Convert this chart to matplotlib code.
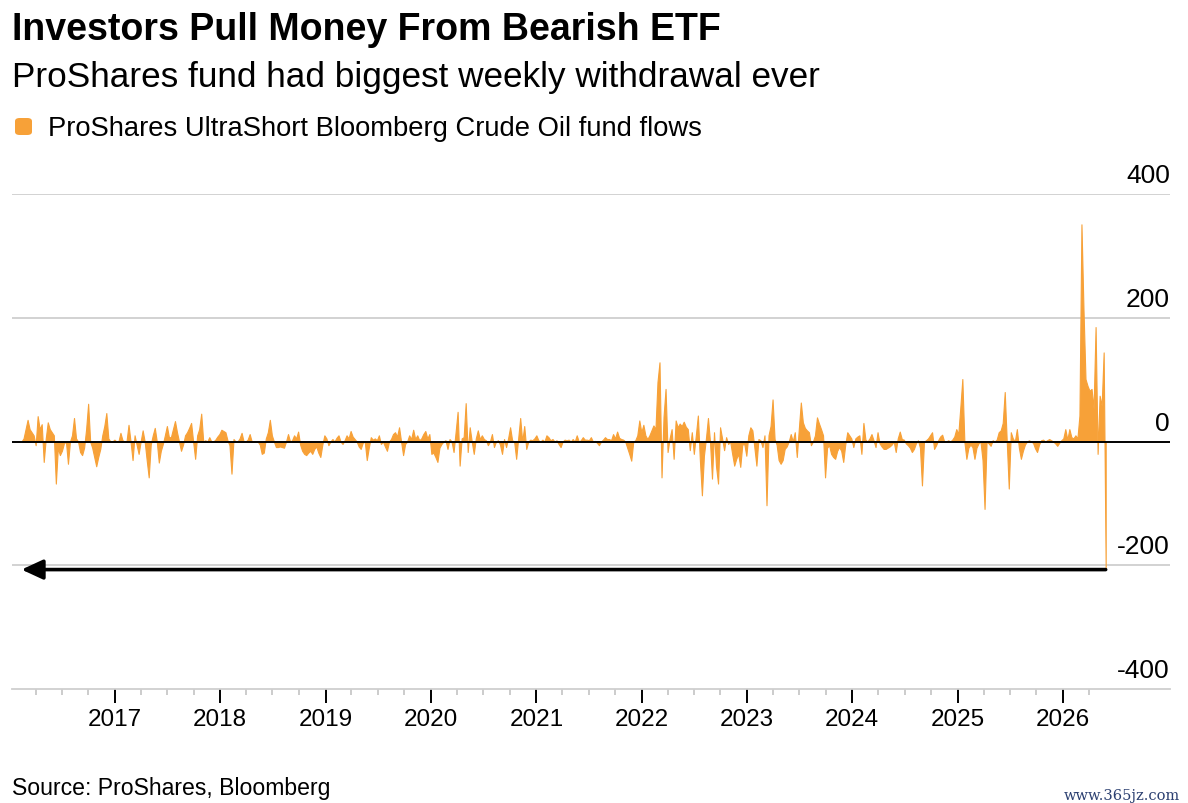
import matplotlib
matplotlib.use("Agg")
import matplotlib.pyplot as plt
import matplotlib.dates as mdates
from matplotlib.patches import FancyBboxPatch
import pandas as pd
import numpy as np

# ---------------- data (weekly fund flows, $ millions) ----------------
start_date = "2016-02-12"
flows_2016 = [0, 5, 20, 35, 20, 15, 10, -6, 41, 20, 28, -33, 5, 31, 20, 15, 10, -68, -10, -22,
              -15, -3, 0, -36, 0, 10, 38, 5, 0, -17, -22, -10, 20, 61, 0, -10, -25, -40, -25, -12,
              10, 25, 46, 5, 0, 0, 3]
flows_2017 = [0, 0, 14, 2, 0, 0, 27, 0, -30, 10, -5, -20, 0, 18, 0, -30, -58, -5, 10, 22,
              0, -34, -15, -4, 10, 25, 7, 7, 20, 33, 15, 0, -15, -5, 10, 15, 22, 30, 0, -28,
              10, 20, 45, 0, 2, 0, 7, 0, 0, 3, 8, 12]
flows_2018 = [19, 17, 15, 2, -6, -52, 4, 0, 0, 5, 14, 0, 0, 3, 12, 0, 0, 0, 0, -5,
              -20, -18, 5, 15, 35, 10, 0, -9, -9, -8, -9, -10, 0, 12, 0, 2, 10, 5, 16, -5,
              -15, -20, -22, -18, -15, -20, -12, -8, -18, -25, -5, 10]
flows_2019 = [5, -6, 0, 4, 0, 6, 10, 0, -4, 2, 10, 5, 17, 8, 4, 0, -8, -12, -2, 0,
              -30, -10, 7, 3, 5, 2, 10, -4, 0, -8, -15, 0, 4, 12, 15, 8, 23, 0, -22, -4,
              0, 10, 4, 19, 4, 10, 2, 5, 12, 17, 5, 12]
flows_2020 = [-20, -18, -25, -33, -10, -4, 0, 2, -12, 4, 0, -17, 15, 48, -39, 5, 7, 62, -17, 23,
              0, -20, 5, 18, 4, 10, 4, 2, -6, 0, 12, -9, 0, 2, -5, -20, 4, -9, 5, 23,
              2, 0, -28, 5, 38, 0, 25, -12, 0, 3, 2, 5]
flows_2021 = [10, 2, 0, 3, 0, 10, 7, 2, 4, 0, 2, -4, -9, 0, 3, 2, 3, 0, 4, 0,
              10, 0, 2, 7, 3, 3, 2, 7, 0, 1, -2, -6, 0, 3, 7, 4, 4, 2, 12, 5,
              16, 6, 4, 3, 0, -10, -20, -31, 0, 2, 10, 34, 15]
flows_2022 = [27, 10, 4, 10, 18, 26, 20, 96, 128, -58, 40, 85, -17, 5, 20, -28, 34, 23, 29, 25,
              32, 24, 20, -14, 15, -20, 10, 42, -30, -87, -23, 5, 38, 0, -60, 15, -40, -68, 23, 5,
              -14, 7, -4, 0, -20, -39, -28, -20, -41, -5, -4, -23]
flows_2023 = [10, 23, 18, -10, -39, 4, 2, -9, 10, -103, 10, 25, 68, 4, -5, -30, -36, -30, -12, -8,
              0, 12, 0, 15, -25, 20, 63, 31, 22, 18, 15, -6, 0, 10, 39, 29, 20, 10, -58, -10,
              -6, -20, -25, -28, -15, -9, -15, -33, -5, 15, 10, 5]
flows_2024 = [-9, 5, 8, 10, -20, 30, 3, 0, 5, 12, 2, -9, 15, -3, -8, -12, -12, -10, -8, -5,
              0, -17, 5, 16, 4, 3, -3, -6, -10, -17, -12, -3, 2, -10, -71, 0, 2, 5, 10, 15,
              -12, -6, 2, 8, 11, 0, 0, 2, 0, 3, 8, 20]
flows_2025 = [12, 55, 101, 0, -28, -10, -5, -9, -28, -10, -3, 0, -30, -109, 0, -3, -7, 2, 0, 3,
              15, 18, 30, 80, 0, -76, 15, 5, 0, 20, -10, -28, -15, -5, 0, 2, 0, -2, -11, -17,
              -5, 2, 3, 0, 2, 4, 2, 0, -3, -7, -2, 2]
flows_2026 = [5, 20, 3, 20, 7, 5, 10, 5, 42, 351, 214, 101, 90, 82, 85, 53, 185, -20, 74, 58,
              144, -205]

year_ticks = ["2017", "2018", "2019", "2020", "2021", "2022", "2023", "2024", "2025", "2026"]
y_ticks = [400, 200, 0, -200, -400]
y_tick_labels = ["400", "200", "0", "-200", "-400"]

title = "Investors Pull Money From Bearish ETF"
subtitle = "ProShares fund had biggest weekly withdrawal ever"
legend_label = "ProShares UltraShort Bloomberg Crude Oil fund flows"
source = "Source: ProShares, Bloomberg"
watermark = "www.365jz.com"

values = np.array(flows_2016 + flows_2017 + flows_2018 + flows_2019 + flows_2020 +
                  flows_2021 + flows_2022 + flows_2023 + flows_2024 + flows_2025 + flows_2026,
                  dtype=float)
dates = pd.date_range(start_date, periods=len(values), freq="7D")

# ---------------- figure ----------------
W, H = 1188, 804
ORANGE = "#F7A138"
FONT = "Liberation Sans"
plt.rcParams["font.family"] = [FONT, "DejaVu Sans"]

fig = plt.figure(figsize=(W / 100, H / 100), dpi=100)
ax = fig.add_axes([12 / W, (H - 690) / H, 1158 / W, 495 / H])

ax.fill_between(dates, 0, values, color=ORANGE, linewidth=0.8, edgecolor=ORANGE, zorder=2)

ax.set_ylim(-400, 400)
ax.set_xlim(pd.Timestamp("2016-01-10"), pd.Timestamp("2027-01-07"))

for v in [400, 200, -200]:
    ax.axhline(v, color="#cfcfcf", lw=1.3, zorder=1)
ax.axhline(0, color="black", lw=1.4, zorder=3)

for sp in ["top", "left", "right"]:
    ax.spines[sp].set_visible(False)
ax.spines["bottom"].set_color("#cfcfcf")
ax.spines["bottom"].set_linewidth(1.3)

ax.set_yticks([])

major = [pd.Timestamp(f"{y}-01-01") for y in year_ticks]
ax.set_xticks(major)
ax.set_xticklabels(year_ticks, fontsize=17.5)
minor = [pd.Timestamp(f"{y}-{m:02d}-01") for y in range(2016, 2027) for m in (4, 7, 10)]
minor = [d for d in minor if d <= pd.Timestamp("2026-04-01")]
ax.set_xticks(minor, minor=True)
ax.tick_params(axis="x", which="major", length=10, width=1.4, color="black", pad=4,
               labelcolor="black")
ax.tick_params(axis="x", which="minor", length=4.5, width=1.3, color="#c8c8c8")

for v, lab in zip(y_ticks, y_tick_labels):
    ax.annotate(lab, xy=(1.0, v), xycoords=("axes fraction", "data"),
                xytext=(0, 8.6), textcoords="offset points",
                ha="right", va="baseline", fontsize=19, color="black")

# arrow marking the record withdrawal across the whole history
ax.annotate("", xy=(dates[0], -207), xytext=(dates[-1], -207),
            arrowprops=dict(arrowstyle="-|>,head_length=1.3,head_width=0.6",
                            lw=2.6, color="black", shrinkA=0, shrinkB=0), zorder=4)

# ---------------- texts ----------------
def fy(px):
    return 1 - px / H

fig.text(12 / W, fy(40), title, fontsize=27, fontweight="bold", va="baseline", ha="left")
fig.text(12 / W, fy(87), subtitle, fontsize=25.3, va="baseline", ha="left")
fig.patches.append(FancyBboxPatch((15 / W, fy(136)), 17 / W, 17 / H,
                                  boxstyle="round,pad=0,rounding_size=0.004",
                                  transform=fig.transFigure, facecolor=ORANGE,
                                  edgecolor="none"))
fig.text(48 / W, fy(136), legend_label, fontsize=19.7, va="baseline", ha="left")
fig.text(12 / W, fy(795), source, fontsize=16.6, va="baseline", ha="left")
fig.text(1180 / W, fy(800), watermark, fontsize=10.5, va="baseline", ha="right",
         color="#2b3f70", family=["DejaVu Serif"])

fig.savefig("out.png", dpi=100)
